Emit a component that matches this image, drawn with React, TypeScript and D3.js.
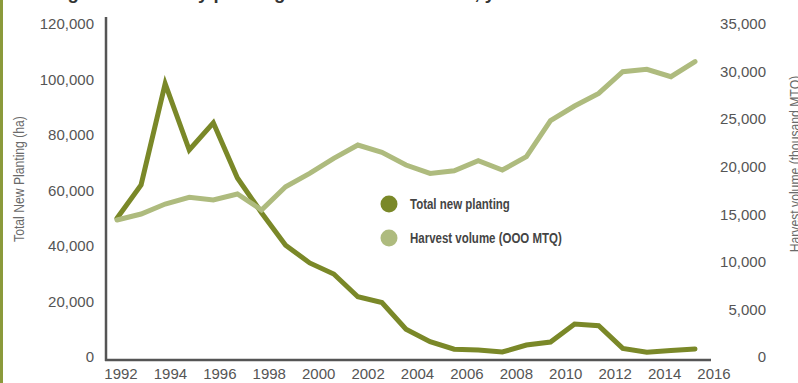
import React, { useEffect } from "react";
import * as d3 from "d3";

const years = [1992, 1993, 1994, 1995, 1996, 1997, 1998, 1999, 2000, 2001, 2002, 2003, 2004, 2005, 2006, 2007, 2008, 2009, 2010, 2011, 2012, 2013, 2014, 2015, 2016];
const totalNewPlanting = [50000, 62000, 98500, 74600, 84400, 64500, 52000, 40300, 33900, 29900, 21700, 19600, 10000, 5500, 2800, 2500, 1800, 4300, 5400, 11900, 11300, 3100, 1700, 2300, 2900];
const harvestVolume = [14400, 15030, 16080, 16780, 16500, 17130, 15450, 17900, 19300, 20880, 22280, 21510, 20180, 19300, 19580, 20630, 19650, 21050, 24840, 26380, 27710, 29990, 30230, 29460, 31040];
const leftTicks = [0, 20000, 40000, 60000, 80000, 100000, 120000];
const rightTicks = [0, 5000, 10000, 15000, 20000, 25000, 30000, 35000];
const xTickYears = [1992, 1994, 1996, 1998, 2000, 2002, 2004, 2006, 2008, 2010, 2012, 2014, 2016];
const seriesNames = ["Total new planting", "Harvest volume (OOO MTQ)"];
const titleText = "Figure 3: Forestry planting and harvest volumes, years 1992 \u2013 2016";
const leftTitle = "Total New Planting (ha)";
const rightTitle = "Harvest volume (thousand MTQ)";

const W = 798;
const H = 383;
const DARK = "#7a8828";
const LIGHT = "#aebb7e";
const AXIS = "#555555";
const SANS = "'Liberation Sans', Arial, sans-serif";

export default function App() {
  useEffect(() => {
    document.body.style.margin = "0";
  }, []);

  const xData = d3.scaleLinear().domain([1992, 2016]).range([117, 695]);
  const xLabel = d3.scaleLinear().domain([1992, 2016]).range([121, 714]);
  const yLeft = d3.scaleLinear().domain([0, 120000]).range([357, 24]);
  const yRight = d3.scaleLinear().domain([0, 35000]).range([357, 24]);
  const fmt = d3.format(",");

  const lineLeft = d3
    .line<number>()
    .x((_, i) => xData(years[i]))
    .y((d) => yLeft(d));
  const lineRight = d3
    .line<number>()
    .x((_, i) => xData(years[i]))
    .y((d) => yRight(d));

  return (
    <div style={{ position: "absolute", left: 0, top: 0 }}>
      <svg width={W} height={H} style={{ display: "block", background: "#fff" }}>
        <rect x={0} y={0} width={3} height={H} fill="#8b9a3b" />
        <text x={51} y={-1.5} fontFamily={SANS} fontWeight="bold" fontSize={18.5} fill="#333">
          {titleText}
        </text>

        {/* axes */}
        <line x1={106} x2={106} y1={17} y2={361} stroke={AXIS} strokeWidth={2.5} />
        <line x1={105} x2={711} y1={360} y2={360} stroke={AXIS} strokeWidth={2.5} />

        {leftTicks.map((t) => (
          <text key={"l" + t} x={94} y={yLeft(t)} dy="0.35em" textAnchor="end" fontFamily={SANS} fontSize={15} fill="#555">
            {fmt(t)}
          </text>
        ))}
        {rightTicks.map((t) => (
          <text key={"r" + t} x={766} y={yRight(t)} dy="0.35em" textAnchor="end" fontFamily={SANS} fontSize={15} fill="#555">
            {fmt(t)}
          </text>
        ))}
        {xTickYears.map((t) => (
          <text key={"x" + t} x={xLabel(t)} y={379} textAnchor="middle" fontFamily={SANS} fontSize={15} fill="#555">
            {t}
          </text>
        ))}

        <text transform={`translate(24,179) rotate(-90) scale(0.84,1)`} textAnchor="middle" fontFamily={SANS} fontSize={14.5} fill="#6a6a6a">
          {leftTitle}
        </text>
        <text transform={`translate(800,164) rotate(-90) scale(0.84,1)`} textAnchor="middle" fontFamily={SANS} fontSize={14.5} fill="#6a6a6a">
          {rightTitle}
        </text>

        <path d={lineLeft(totalNewPlanting) || ""} fill="none" stroke={DARK} strokeWidth={5} strokeLinecap="round" strokeLinejoin="miter" />
        <path d={lineRight(harvestVolume) || ""} fill="none" stroke={LIGHT} strokeWidth={5} strokeLinecap="round" strokeLinejoin="miter" />

        {seriesNames.map((n, i) => (
          <g key={n} transform={`translate(389,${204 + i * 34})`}>
            <circle r={8.5} fill={i === 0 ? DARK : LIGHT} />
            <text transform="translate(21,0) scale(0.82,1)" dy="0.35em" fontFamily={SANS} fontWeight="bold" fontSize={14} fill="#444">
              {n}
            </text>
          </g>
        ))}
      </svg>
    </div>
  );
}
